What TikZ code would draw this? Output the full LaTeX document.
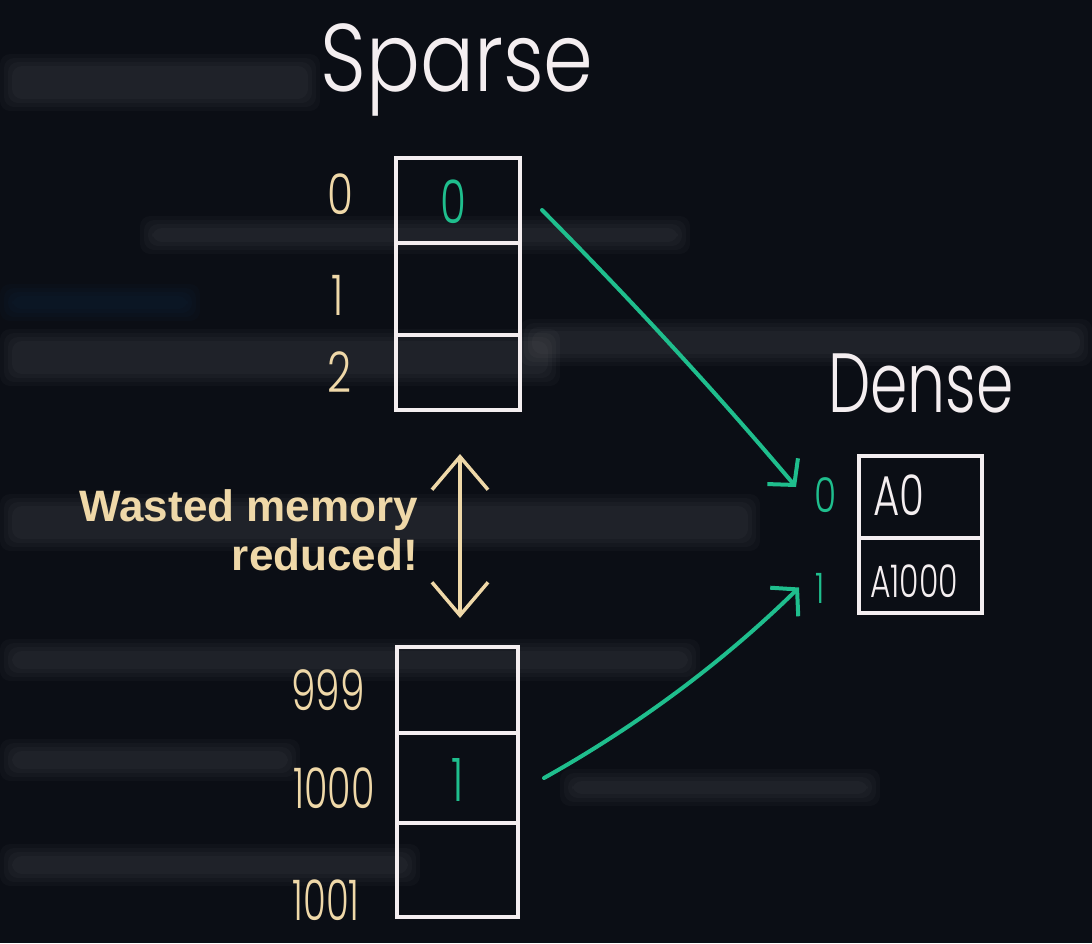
\documentclass[tikz,border=0pt]{standalone}
\usepackage{fontspec}
\usepackage{graphicx}
\usetikzlibrary{arrows.meta,calc}
\setmainfont{Liberation Sans}
\newfontfamily\hand{Poppins Light}
\definecolor{bg}{HTML}{0B0E15}
\definecolor{beige}{HTML}{EFD8A8}
\definecolor{mint}{HTML}{1FBE8D}
\definecolor{chalk}{HTML}{F4EEF0}
\newcommand{\nar}[2][0.7]{\scalebox{#1}[1]{#2}}
\newcommand{\hf}[1]{\hand\fontsize{#1}{#1}\selectfont}
\newcommand{\blurbar}[5]{%
  \foreach \k in {0,4,8,12}{%
    \fill[#5, fill opacity=0.022, rounded corners=10pt]
      (#1+\k,#2-6+\k) rectangle (#3-\k,#4+6-\k);}}
\begin{document}
\begin{tikzpicture}[x=1pt,y=-1pt,
  cellbox/.style={draw=chalk, line width=4pt, inner sep=0pt, minimum width=#1},
  idx/.style={text=beige, inner sep=0pt, font=\hf{56}},
  gidx/.style={text=mint, inner sep=0pt, font=\hf{48}},
  celltext/.style={inner sep=0pt},
  title/.style={text=chalk, inner sep=0pt},
  garrow/.style={draw=mint, line width=4pt, line cap=round,
    -{Straight Barb[length=18pt,width=40pt,line width=4pt]}},
  barrow/.style={draw=beige, line width=3.5pt, line cap=round,
    {Straight Barb[length=33pt,width=56pt,line width=3.5pt]}-{Straight Barb[length=33pt,width=56pt,line width=3.5pt]}}
]
% background
\fill[bg] (0,0) rectangle (1092,943);
\useasboundingbox (0,0) rectangle (1092,943);
% faint blurred code lines
\blurbar{0}{60}{320}{105}{white}
\blurbar{140}{222}{690}{248}{white}
\blurbar{0}{290}{200}{315}{cyan!60!blue}
\blurbar{0}{335}{560}{380}{white}
\blurbar{520}{325}{1092}{360}{white}
\blurbar{0}{500}{760}{545}{white}
\blurbar{0}{645}{700}{675}{white}
\blurbar{0}{745}{300}{775}{white}
\blurbar{560}{775}{880}{800}{white}
\blurbar{0}{850}{420}{880}{white}

% titles
\node[title, font=\hf{80}, anchor=base] (sparse) at (457,91) {\scalebox{1}[1.2]{Sparse}};
\node[title, font=\hf{60}, anchor=base] (dense) at (921,412) {\scalebox{1}[1.4]{Dense}};

% sparse array, top part
\node[cellbox=124pt, minimum height=85pt] (s0) at (458,200.5) {};
\node[cellbox=124pt, minimum height=92pt] (s1) at (458,289) {};
\node[cellbox=124pt, minimum height=75pt] (s2) at (458,372.5) {};
% sparse array, bottom part
\node[cellbox=121pt, minimum height=86pt] (b0) at (457.5,690) {};
\node[cellbox=121pt, minimum height=90pt] (b1) at (457.5,778) {};
\node[cellbox=121pt, minimum height=94pt] (b2) at (457.5,870) {};
% dense array
\node[cellbox=123pt, minimum height=82pt] (d0) at (920.5,497) {};
\node[cellbox=123pt, minimum height=75pt] (d1) at (920.5,575.5) {};

% index labels
\node[idx] (i0) at (340,194) {\nar[0.75]{0}};
\node[idx] (i1) at (338,295) {\nar[0.75]{1}};
\node[idx] (i2) at (340,372) {\nar[0.75]{2}};
\node[idx] (i999) at (328,690) {\nar{999}};
\node[idx] (i1000) at (334,788) {\nar[0.68]{1000}};
\node[idx] (i1001) at (326,900) {\nar[0.66]{1001}};
\node[gidx] (j0) at (826,495) {\nar[0.75]{0}};
\node[gidx, font=\hf{42}] (j1) at (820,588) {\nar[0.75]{1}};

% cell contents
\node[celltext, text=mint, font=\hf{60}] (v0) at (453,202) {\nar[0.7]{0}};
\node[celltext, text=mint, font=\hf{60}] (v1) at (458,780) {\nar[0.7]{1}};
\node[celltext, text=chalk, font=\hf{56}] (a0) at (899,495) {\nar[0.72]{A0}};
\node[celltext, text=chalk, font=\hf{45}] (a1000) at (914,581) {\nar[0.7]{A1000}};

% note
\node[text=beige, inner sep=0pt, align=right, anchor=east,
  font=\bfseries\fontsize{44}{49}\selectfont] (note) at (418,530)
  {Wasted memory\\reduced!};

% connectors
\draw[garrow] ($(s0.east)+(20,9.5)$) .. controls (630,299) and (716,392) .. ($(d0.west)+(-61,-10)$);
\draw[garrow] ($(b1.east)+(24,0)$) .. controls (637,726) and (723,662) .. ($(d1.west)+(-58,12)$);
\draw[barrow] ($(s2.south)+(2,42)$) -- ($(b0.north)+(2.5,-27)$);
\end{tikzpicture}
\end{document}
